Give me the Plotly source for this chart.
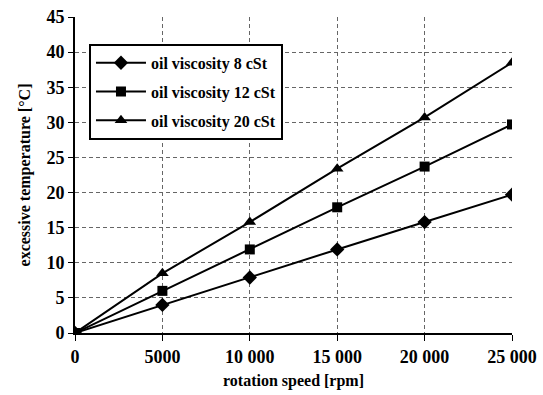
import plotly.graph_objects as go

speed = [0, 5000, 10000, 15000, 20000, 25000]
visc_8 = [0, 4.0, 7.9, 11.9, 15.8, 19.7]
visc_12 = [0, 6.0, 11.9, 17.9, 23.7, 29.7]
visc_20 = [0, 8.5, 15.8, 23.4, 30.7, 38.5]
series_names = ["oil viscosity 8 cSt", "oil viscosity 12 cSt", "oil viscosity 20 cSt"]
x_tick_vals = [0, 5000, 10000, 15000, 20000, 25000]
x_tick_text = ["0", "5000", "10 000", "15 000", "20 000", "25 000"]
y_tick_vals = [0, 5, 10, 15, 20, 25, 30, 35, 40, 45]

font_family = "Liberation Serif, Times New Roman, serif"

fig = go.Figure()
for i, (name, vals, sym, sz) in enumerate(zip(series_names, [visc_8, visc_12, visc_20],
                                              ["diamond", "square", "triangle-up"], [11, 10, 11])):
    fig.add_trace(go.Scatter(
        x=speed, y=vals, name=name, mode="lines+markers", legendgroup=f"g{i}",
        line=dict(color="black", width=2),
        marker=dict(symbol=sym, size=sz, color="black"),
    ))

tick_font = dict(family=font_family, size=18, color="black", weight="bold")
title_font = dict(family=font_family, size=16, color="black", weight="bold")

fig.update_layout(
    width=543, height=395,
    margin=dict(l=75, r=31, t=17, b=62),
    paper_bgcolor="white", plot_bgcolor="white",
    font=dict(family=font_family, size=16, color="black"),
    showlegend=True,
    legend=dict(
        x=0.032, y=0.915, xanchor="left", yanchor="top",
        bgcolor="white", bordercolor="black", borderwidth=2,
        font=dict(family=font_family, size=16, color="black", weight="bold"),
        tracegroupgap=5, itemwidth=50,
    ),
    xaxis=dict(
        range=[0, 25000], tickvals=x_tick_vals, ticktext=x_tick_text,
        showgrid=True, gridcolor="#666666", griddash="4px,3px", gridwidth=1,
        showline=True, linecolor="black", linewidth=2,
        ticks="outside", ticklen=6, tickcolor="black", tickwidth=1,
        tickfont=tick_font, automargin=False,
        title=dict(text="rotation speed [rpm]", standoff=9, font=title_font),
        zeroline=False,
    ),
    yaxis=dict(
        range=[0, 45], tickvals=y_tick_vals,
        showgrid=True, gridcolor="#666666", griddash="4px,3px", gridwidth=1,
        showline=True, linecolor="black", linewidth=2,
        ticks="outside", ticklen=5, tickcolor="black", tickwidth=1,
        tickfont=tick_font, automargin=False,
        title=dict(text="excessive temperature [°C]", standoff=12, font=title_font),
        zeroline=False,
    ),
)

fig.write_html("out.html", config={"displayModeBar": False},
               post_script="document.body.style.margin='0';")
